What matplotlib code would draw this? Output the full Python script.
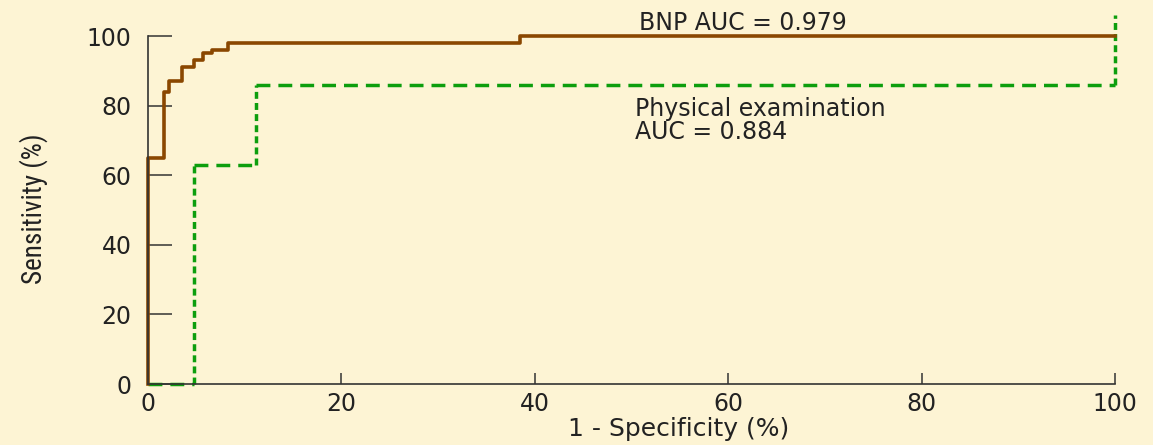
import matplotlib
matplotlib.use("Agg")
import matplotlib.pyplot as plt
from matplotlib import font_manager as fm

# ---------------- DATA ----------------
# BNP ROC curve, step vertices (1 - specificity %, sensitivity %)
bnp_x = [0, 0, 1.6, 1.6, 2.2, 2.2, 3.5, 3.5, 4.8, 4.8, 5.7, 5.7,
         6.6, 6.6, 8.3, 8.3, 38.5, 38.5, 100]
bnp_y = [0, 65, 65, 84, 84, 87, 87, 91, 91, 93, 93, 95,
         95, 96, 96, 98, 98, 100, 100]

# Physical examination ROC curve, step vertices
pe_x = [0, 4.8, 4.8, 11.2, 11.2, 100, 100]
pe_y = [0, 0, 63, 63, 86, 86, 106]

x_ticks = [0, 20, 40, 60, 80, 100]
y_ticks = [0, 20, 40, 60, 80, 100]

bnp_label = "BNP AUC = 0.979"
pe_label = "Physical examination\nAUC = 0.884"
# ---------------------------------------------------------------

BG = "#fdf4d4"
BROWN = "#8a4700"
GREEN = "#0d9e0d"
INK = "#222222"


def pick_font(candidates):
    # first installed family wins, else plain DejaVu Sans
    for name in candidates:
        try:
            fm.findfont(fm.FontProperties(family=name), fallback_to_default=False)
            return name
        except ValueError:
            continue
    return "DejaVu Sans"


narrow = pick_font(["Liberation Sans Narrow", "Roboto Condensed",
                    "Open Sans Condensed", "DejaVu Sans Condensed"])

fig = plt.figure(figsize=(11.53, 4.45), dpi=100)
fig.patch.set_facecolor(BG)
ax = fig.add_axes([0.1284, 0.137, 0.8386, 0.782])
ax.set_facecolor(BG)

# green dashed curve: horizontal runs get long dashes, vertical runs short ones
for x0, y0, x1, y1 in zip(pe_x[:-1], pe_y[:-1], pe_x[1:], pe_y[1:]):
    dash = (4, 2.3) if y0 == y1 else (2, 1.2)
    ax.plot([x0, x1], [y0, y1], color=GREEN, lw=2.5, dashes=dash,
            solid_capstyle="butt", clip_on=False, zorder=2)

ax.plot(bnp_x, bnp_y, color=BROWN, lw=2.6, clip_on=False, zorder=3)

ax.set_xlim(0, 100)
ax.set_ylim(0, 100)
ax.set_xticks(x_ticks)
ax.set_yticks(y_ticks)

for side in ["top", "right"]:
    ax.spines[side].set_visible(False)
for side in ["left", "bottom"]:
    ax.spines[side].set_color("#333333")
    ax.spines[side].set_linewidth(1.2)
    ax.spines[side].set_zorder(4)

ax.tick_params(axis="x", direction="in", length=8, width=1.1, colors="#333333",
               labelcolor=INK, labelsize=17, pad=6)
ax.tick_params(axis="y", direction="in", length=17, width=1.1, colors="#333333",
               labelcolor=INK, labelsize=17, pad=12)

ax.set_xlabel("1 - Specificity (%)", fontsize=18, color=INK)
ax.xaxis.set_label_coords(0.549, -0.095)
ax.set_ylabel("Sensitivity (%)", fontsize=19.5, color=INK,
              family=[narrow, "DejaVu Sans"], fontstretch="condensed")
ax.yaxis.set_label_coords(-0.103, 0.505)

ax.text(50.8, 101.7, bnp_label, fontsize=17, color=INK, va="baseline", ha="left")
ax.text(50.4, 82.5, pe_label, fontsize=17, color=INK, va="top", ha="left",
        linespacing=0.95)

fig.savefig("out.png", dpi=100, facecolor=BG)
